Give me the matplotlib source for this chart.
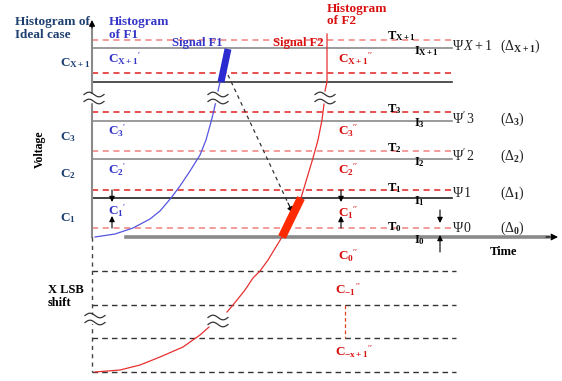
import numpy as np
import matplotlib
matplotlib.use("Agg")
import matplotlib.pyplot as plt
from matplotlib.patches import Rectangle

plt.rcParams['font.family'] = ['Liberation Serif', 'DejaVu Serif']
plt.rcParams['mathtext.fontset'] = 'custom'
plt.rcParams['mathtext.rm'] = 'Liberation Serif'
plt.rcParams['mathtext.bf'] = 'Liberation Serif:bold'
plt.rcParams['mathtext.it'] = 'Liberation Serif:italic'

# ---------------- data (schematic rows / points) ----------
level_names = ['0', '1', '2', '3', 'X+1']
solid_rows = [198, 159, 121, 82, 48]            # I levels (code boundaries)
solid_colors = ['#222222', '#8a8a8a', '#8a8a8a', '#333333', '#8a8a8a']
threshold_rows = [228, 190, 151, 112, 73, 40]   # T levels (red dashed)
threshold_colors = ['#f08080', '#e02020', '#f08080', '#e02020', '#e02020', '#f08080']
lower_rows = [271, 305, 338, 372]               # shifted codes (black dashed)
time_row = 237

ideal_labels = [r'$\mathbf{C_{1}}$', r'$\mathbf{C_{2}}$', r'$\mathbf{C_{3}}$', r'$\mathbf{C_{X+1}}$']
ideal_rows = [218, 174, 137, 63]
f1_labels = [r"$\mathbf{C_{1}}^{\prime}$", r"$\mathbf{C_{2}}^{\prime}$", r"$\mathbf{C_{3}}^{\prime}$",
             r"$\mathbf{C_{X+1}}^{\prime}$"]
f1_rows = [211, 170, 131, 59]
f2_labels = [r"$\mathbf{C_{-x+1}}^{\prime\prime}$", r"$\mathbf{C_{-1}}^{\prime\prime}$",
             r"$\mathbf{C_{0}}^{\prime\prime}$", r"$\mathbf{C_{1}}^{\prime\prime}$",
             r"$\mathbf{C_{2}}^{\prime\prime}$", r"$\mathbf{C_{3}}^{\prime\prime}$",
             r"$\mathbf{C_{X+1}}^{\prime\prime}$"]
f2_rows = [352, 290, 256, 213, 170, 131, 59]
f2_cols = [335, 335, 338, 338, 338, 338, 338]

t_labels = [r'$\mathbf{T_{0}}$', r'$\mathbf{T_{1}}$', r'$\mathbf{T_{2}}$', r'$\mathbf{T_{3}}$', r'$\mathbf{T_{X+1}}$']
t_rows = [227, 188, 148, 109, 36]
i_labels = [r'$\mathbf{I_{0}}$', r'$\mathbf{I_{1}}$', r'$\mathbf{I_{2}}$', r'$\mathbf{I_{3}}$', r'$\mathbf{I_{X+1}}$']
i_rows = [240, 201, 162, 123, 51]
psi_labels = [r'$\Psi\,0$', r'$\Psi\,1$', r"$\Psi'\,2$", r"$\Psi'\,3$", r'$\Psi\,X+1$']
psi_rows = [228, 193, 156, 119, 46]
delta_labels = [r'$(\Delta_{\mathbf{0}})$', r'$(\Delta_{\mathbf{1}})$', r'$(\Delta_{\mathbf{2}})$',
                r'$(\Delta_{\mathbf{3}})$', r'$(\Delta_{\mathbf{X+1}})$']

# signal F1 (blue) curve points, lower part and upper part (across the break)
f1_x = [95, 115, 133, 150, 160, 171, 180, 190, 200, 206, 211, 214, 216]
f1_y = [237, 234, 228, 219, 211, 198, 186, 171, 155, 140, 122, 110, 101]
f1_up_x = [218, 220]
f1_up_y = [91, 82]
f1_thick_x = [221, 228]
f1_thick_y = [82, 49]
# signal F2 (red) curve points
f2_lo_x = [95, 120, 140, 160, 183, 200, 209]
f2_lo_y = [372, 370, 365, 357, 347, 335, 327]
f2_x = [227, 233, 245, 253, 260, 268, 282, 301, 307, 313, 318, 322, 324]
f2_y = [312, 305, 290, 278, 271, 260, 237, 198, 178, 158, 140, 120, 104]
f2_up_x = [325, 327, 327]
f2_up_y = [91, 82, 34]
f2_thick_x = [282, 301]
f2_thick_y = [237, 198]

navy = '#1c3f70'
blue = '#3535c8'
red = '#e01010'

fig = plt.figure(figsize=(5.62, 3.81), dpi=100)
ax = fig.add_axes([0, 0, 1, 1])
ax.set_xlim(0, 562)
ax.set_ylim(381, 0)
ax.axis('off')

X0, X1 = 92, 452
AP = dict(arrowstyle='-|>', color='k', lw=0.8, shrinkA=0, shrinkB=0)

# horizontal lines
for r, c in zip(solid_rows, solid_colors):
    ax.plot([X0, X1], [r, r], color=c, lw=1.2, zorder=2)
for r, c in zip(threshold_rows, threshold_colors):
    ax.plot([X0, X1], [r, r], color=c, lw=1.1, ls=(0, (4, 3)), zorder=2)
for r in lower_rows:
    ax.plot([X0, 456], [r, r], color='#333333', lw=1.0, ls=(0, (4, 3)), zorder=2)
ax.plot([345, 345], [305, 338], color='#e04020', lw=0.9, ls=(0, (3, 2)), zorder=2)

# vertical axis
ax.plot([X0, X0], [time_row, 26], color='#8a8a8a', lw=1.5, zorder=3)
ax.annotate('', xy=(X0, 20), xytext=(X0, 28), arrowprops=dict(AP, mutation_scale=9))
ax.plot([X0, X0], [time_row, 372], color='#444444', lw=1.0, ls=(0, (3, 3)), zorder=3)

# time axis
ax.plot([126, 548], [time_row, time_row], color='#8a8a8a', lw=2.6, zorder=3)
ax.annotate('', xy=(558, time_row), xytext=(546, time_row), arrowprops=dict(AP, mutation_scale=10))

# curves
ax.plot(f1_x, f1_y, color='#5555e0', lw=0.9, zorder=4)
ax.plot(f1_up_x, f1_up_y, color='#5555e0', lw=0.9, zorder=4)
ax.plot(f1_thick_x, f1_thick_y, color='#2a2ad0', lw=5, solid_capstyle='butt', zorder=4)
ax.plot(f2_lo_x, f2_lo_y, color='#e83030', lw=0.9, zorder=4)
ax.plot(f2_x, f2_y, color='#e83030', lw=0.9, zorder=4)
ax.plot(f2_up_x, f2_up_y, color='#e83030', lw=0.9, zorder=4)
ax.plot(f2_thick_x, f2_thick_y, color='#ff2a00', lw=6, solid_capstyle='butt', zorder=4)

# dashed arrow from F1 to F2
ax.plot([228, 288], [75, 203], color='#333333', lw=0.9, ls=(0, (3, 3)), zorder=4)
ax.annotate('', xy=(293, 213), xytext=(288, 203), arrowprops=dict(AP, mutation_scale=9))

# small arrows
for x, a, b, c, d in [(112, 190, 202, 228, 216), (341, 190, 202, 228, 216), (440, 210, 223, 252, 235)]:
    ax.annotate('', xy=(x, b), xytext=(x, a), arrowprops=dict(AP, mutation_scale=8))
    ax.annotate('', xy=(x, d), xytext=(x, c), arrowprops=dict(AP, mutation_scale=8))

# break symbols
def brk(x, y):
    ax.add_patch(Rectangle((x - 10, y - 4), 20, 8, color='white', zorder=5))
    t = np.linspace(-10, 10, 40)
    for dy in (-3.5, 3.5):
        ax.plot(x + t, y + dy + 2.3 * np.sin(np.pi * t / 10), color='#333333', lw=0.9, zorder=6)

for bx, by in [(94, 98), (218, 98), (325, 98), (95, 319), (218, 321)]:
    brk(bx, by)

# texts
bold = dict(fontweight='bold', fontsize=9.5)
ax.text(15, 22, 'Histogram of', color=navy, va='center', ha='left', **bold)
ax.text(15, 35, 'Ideal case', color=navy, va='center', ha='left', **bold)
ax.text(109, 22, 'Histogram', color=blue, va='center', ha='left', **bold)
ax.text(109, 35, 'of F1', color=blue, va='center', ha='left', **bold)
ax.text(327, 9, 'Histogram', color='#d81010', va='center', ha='left', **bold)
ax.text(327, 21, 'of F2', color='#d81010', va='center', ha='left', **bold)
ax.text(172, 43, 'Signal F1', color=blue, va='center', ha='left', fontweight='bold', fontsize=9)
ax.text(273, 43, 'Signal F2', color='#d81010', va='center', ha='left', fontweight='bold', fontsize=9)

for lab, r in zip(ideal_labels, ideal_rows):
    ax.text(60, r, lab, color=navy, fontsize=9.5, va='center', ha='left')
for lab, r in zip(f1_labels, f1_rows):
    ax.text(108, r, lab, color=blue, fontsize=9.5, va='center', ha='left')
for lab, r, c in zip(f2_labels, f2_rows, f2_cols):
    ax.text(c, r, lab, color='#d81010', fontsize=9.5, va='center', ha='left')
for lab, r in zip(t_labels, t_rows):
    ax.text(387, r, lab, color='k', fontsize=9, va='center', ha='left')
for lab, r in zip(i_labels, i_rows):
    ax.text(414, r, lab, color='k', fontsize=9, va='center', ha='left')
for lab, r in zip(psi_labels, psi_rows):
    ax.text(452, r, lab, color='#222222', fontsize=10, va='center', ha='left')
for lab, r in zip(delta_labels, psi_rows):
    ax.text(500, r, lab, color='#222222', fontsize=10, va='center', ha='left')

ax.text(40, 149, 'Voltage', rotation=90, fontweight='bold', fontsize=8.5, va='center', ha='center')
ax.text(48, 290, 'X LSB', fontweight='bold', fontsize=9, va='center', ha='left')
ax.text(48, 303, 'shift', fontweight='bold', fontsize=9, va='center', ha='left')
ax.text(490, 252, 'Time', fontweight='bold', fontsize=9, va='center', ha='left')

fig.savefig('out.png', dpi=100)
